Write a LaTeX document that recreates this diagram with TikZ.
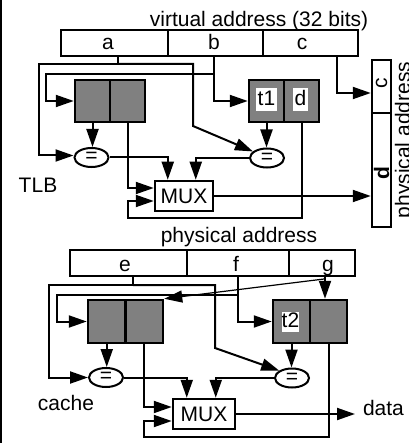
\documentclass[tikz,border=0pt]{standalone}
\usepackage{fontspec}
\setmainfont{Liberation Sans}
\usetikzlibrary{arrows.meta,shapes.geometric,calc}
\definecolor{boxgray}{RGB}{128,128,128}
\newcommand\dfont{\fontsize{21}{25}\selectfont}
\begin{document}
\begin{tikzpicture}[x=1pt,y=-1pt,line width=2pt,
  every node/.style={font=\dfont},
  fld/.style={draw,line width=2.5pt,inner sep=0pt,minimum height=26pt},
  gbox/.style={draw,fill=boxgray,line width=2.5pt,inner sep=0pt},
  cmp/.style={draw,ellipse,line width=2pt,inner sep=0pt,minimum width=34pt,minimum height=19pt},
  muxbox/.style={draw,line width=2.5pt,inner sep=0pt,minimum height=30pt},
  wlab/.style={fill=white,inner xsep=1.5pt,inner ysep=2pt,text height=15pt,text depth=4pt},
  arr/.style={-{Triangle[length=18pt,width=12pt]}},
]
\useasboundingbox (0,0) rectangle (408,443);
\draw[line width=2pt] (1,0) -- (1,443);

% ---------- TLB part ----------
\node[anchor=base] (vt) at (259,27) {virtual address (32 bits)};
\node[fld,minimum width=107pt] (fa) at (114.5,43) {};
\node[fld,minimum width=95pt] (fb) at (215.5,43) {};
\node[fld,minimum width=95pt] (fc) at (310.5,43) {};
\node[anchor=base] (la) at (108,50) {a};
\node[anchor=base] (lb) at (214,50) {b};
\node[anchor=base] (lc) at (302,50) {c};

\node[draw,line width=2.5pt,inner sep=0pt,minimum width=19pt,minimum height=53pt] (pc) at (381.5,86.5) {};
\node[draw,line width=2.5pt,inner sep=0pt,minimum width=19pt,minimum height=114pt] (pd) at (381.5,170) {};
\node[rotate=90] (pcl) at (381.5,83) {c};
\node[rotate=90,font=\dfont\bfseries] (pdl) at (381.5,173) {d};
\node[rotate=90,anchor=base] (pat) at (410,140) {physical address};

\node[gbox,minimum width=35pt,minimum height=42pt] (lb1) at (92.5,101) {};
\node[gbox,minimum width=35pt,minimum height=42pt] (lb2) at (127.5,101) {};
\node[gbox,minimum width=35pt,minimum height=42pt] (rb1) at (266.5,101) {};
\node[gbox,minimum width=35pt,minimum height=42pt] (rb2) at (301.5,101) {};
\node[wlab] (t1) at (266.5,100) {t1};
\node[wlab,inner xsep=2pt] (dl) at (300.5,100) {d};

\node[cmp] (o1) at (91.5,157.5) {=};
\node[cmp] (o2) at (267,158) {=};
\node[muxbox,minimum width=58pt] (mux) at (184,196) {MUX};
\node[anchor=base] (tlb) at (38,193) {TLB};

\coordinate (atap) at (118,56);
\coordinate (aj) at (118,64);
\draw (atap) -- (aj);
\draw[arr] (aj) -| ($(o1.west)+(-34.5,-2)$) -- ($(o1.west)+(0,-2)$);
\coordinate (ad) at (193,126);
\draw[arr] (aj) -| (ad) -- (o2.155);
\coordinate (btap) at (214,56);
\coordinate (bj) at (214,74);
\draw[arr] (btap) |- (rb1.west);
\draw[arr] (bj) -| ($(lb1.west)+(-28,0)$) -- (lb1.west);
\coordinate (ctap) at (337,56);
\draw[arr] (ctap) |- ($(pc.west)+(0,6.5)$);
\draw[arr] (lb1.south) -- (lb1.south |- o1.north);
\draw[arr] (rb1.south) -- (rb1.south |- o2.north);
\draw[arr] (o1.east) -| ($(mux.north west)+(14,0)$);
\draw[arr] (o2.west) -| ($(mux.north west)+(42,0)$);
\draw[arr] (lb2.south) |- ($(mux.west)+(0,-8)$);
\coordinate (ly1) at (0,218);
\draw[arr] (rb2.south) -- (rb2.south |- ly1) -- (lb2.south |- ly1) |- ($(mux.west)+(0,5)$);
\draw[arr] (mux.east) -- (mux.east -| pd.west);

% ---------- cache part ----------
\node[anchor=base] (pat2) at (239,242) {physical address};
\node[fld,minimum width=117pt] (fe) at (128.5,263) {};
\node[fld,minimum width=102pt] (ff) at (238,263) {};
\node[fld,minimum width=66pt] (fg) at (322,263) {};
\node[anchor=base] (le) at (125,271) {e};
\node[anchor=base] (lf) at (236,271) {f};
\node[anchor=base] (lg) at (328,271) {g};

\node[gbox,minimum width=37.5pt,minimum height=43pt] (lc1) at (106.75,321.5) {};
\node[gbox,minimum width=37.5pt,minimum height=43pt] (lc2) at (144.25,321.5) {};
\node[gbox,minimum width=37pt,minimum height=43pt] (rc1) at (291.5,321.5) {};
\node[gbox,minimum width=37pt,minimum height=43pt] (rc2) at (328.5,321.5) {};
\node[fill=white,inner sep=0pt,text height=15pt,text depth=4.5pt] (t2) at (290.5,322) {t2};

\node[cmp] (o3) at (106,377.5) {=};
\node[cmp] (o4) at (292,378) {=};
\node[muxbox,minimum width=62pt] (mux2) at (204,414) {MUX};
\node[anchor=base] (cache) at (66,410) {cache};
\node[anchor=mid west,inner xsep=7pt,inner ysep=0pt] (data) at (355,412.5) {data};

\coordinate (etap) at (133,276);
\coordinate (ej) at (133,285);
\draw (etap) -- (ej);
\draw[arr] (ej) -| ($(o3.west)+(-39,0)$) -- (o3.west);
\coordinate (ed) at (215,348);
\draw[arr] (ej) -| (ed) -- (o4.150);
\coordinate (ftap) at (238,276);
\coordinate (fj) at (238,295);
\draw[arr] (ftap) |- (rc1.west);
\draw[arr] (fj) -| ($(lc1.west)+(-30,0)$) -- (lc1.west);
\coordinate (gtap) at (325,276);
\draw[arr] (gtap) -- (gtap |- rc2.north);
\coordinate (gd) at (324,279);
\draw[arr,line width=1.2pt] (gd) -- (lc2.north east);
\draw[arr] (lc1.south) -- (lc1.south |- o3.north);
\draw[arr] (rc1.south) -- (rc1.south |- o4.north);
\draw[arr] (o3.east) -| ($(mux2.north west)+(15,0)$);
\draw[arr] (o4.west) -| ($(mux2.north west)+(44,0)$);
\draw[arr] (lc2.south) |- ($(mux2.west)+(0,-7)$);
\coordinate (ly2) at (0,437);
\draw[arr] (rc2.south) -- (rc2.south |- ly2) -- (lc2.south |- ly2) |- ($(mux2.west)+(0,7)$);
\draw[arr] (mux2.east) -- (mux2.east -| data.west);
\end{tikzpicture}
\end{document}
